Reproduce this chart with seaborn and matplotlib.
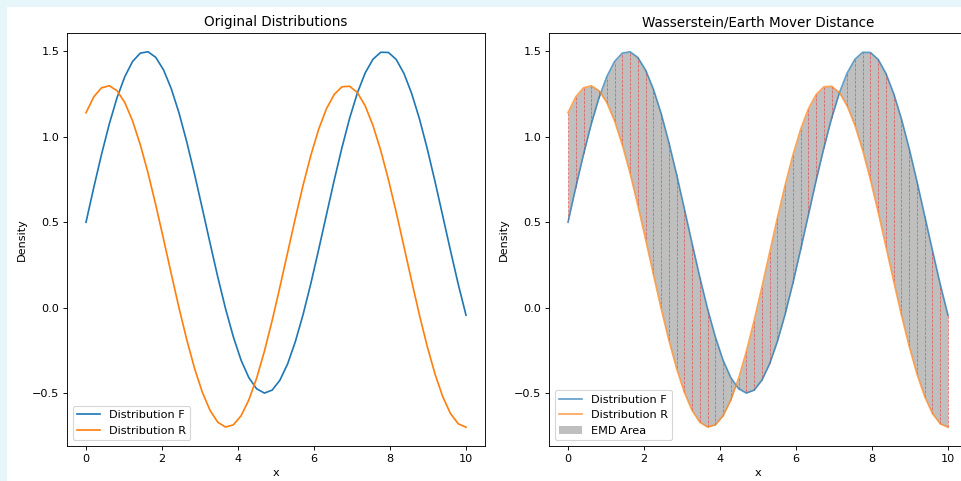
import numpy as np
import pandas as pd
import matplotlib
matplotlib.use("Agg")
import matplotlib.pyplot as plt
import seaborn as sns
from matplotlib.patches import Rectangle

# ---- data (50 sample points on [0, 10]) ----
x_values = np.linspace(0, 10, 50)

dist_f = [0.500, 0.703, 0.897, 1.075, 1.229, 1.352, 1.441, 1.490, 1.498, 1.465,
          1.392, 1.281, 1.139, 0.969, 0.781, 0.580, 0.377, 0.178, -0.007, -0.171,
          -0.308, -0.410, -0.475, -0.500, -0.483, -0.425, -0.329, -0.198, -0.039, 0.143,
          0.340, 0.543, 0.745, 0.936, 1.110, 1.258, 1.374, 1.454, 1.495, 1.494,
          1.453, 1.371, 1.253, 1.105, 0.931, 0.739, 0.537, 0.334, 0.137, -0.044]

dist_r = [1.141, 1.234, 1.287, 1.299, 1.270, 1.201, 1.094, 0.954, 0.788, 0.600,
          0.401, 0.197, -0.003, -0.189, -0.356, -0.495, -0.602, -0.671, -0.699, -0.686,
          -0.633, -0.540, -0.413, -0.256, -0.076, 0.120, 0.323, 0.525, 0.718, 0.893,
          1.044, 1.164, 1.248, 1.293, 1.296, 1.259, 1.181, 1.067, 0.921, 0.749,
          0.559, 0.357, 0.154, -0.044, -0.227, -0.388, -0.521, -0.620, -0.680, -0.700]

series_labels = ["Distribution F", "Distribution R"]
area_label = "EMD Area"
titles = ["Original Distributions", "Wasserstein/Earth Mover Distance"]

df = pd.DataFrame({"x": x_values, "F": dist_f, "R": dist_r})

W, H = 961, 481
DPI = 81
fig = plt.figure(figsize=(W / DPI, H / DPI), dpi=DPI)
fig.patch.set_facecolor("#e6f6fb")
# white canvas (the reference is a crop of a larger figure)
fig.add_artist(Rectangle((7 / W, 0), 1, (H - 7) / H, transform=fig.transFigure,
                         facecolor="white", edgecolor="none", zorder=-10))

ax_w = 418 / W
ax_b = (H - 446) / H
ax_h = 413 / H
ax1 = fig.add_axes([67 / W, ax_b, ax_w, ax_h])
ax2 = fig.add_axes([549 / W, ax_b, ax_w, ax_h])

# left panel
sns.lineplot(data=df, x="x", y="F", ax=ax1, color="C0", label=series_labels[0])
sns.lineplot(data=df, x="x", y="R", ax=ax1, color="C1", label=series_labels[1])
ax1.set_title(titles[0], fontsize=12)
ax1.set_xlabel("x")
ax1.set_ylabel("Density")
ax1.legend(loc="lower left")

# right panel
ax2.fill_between(df["x"], df["F"], df["R"], color="gray", alpha=0.5,
                 label=area_label, linewidth=0)
ax2.vlines(df["x"], df["R"], df["F"], colors="red", linestyles="--",
           linewidth=0.7, alpha=0.5)
sns.lineplot(data=df, x="x", y="F", ax=ax2, color="C0", alpha=0.7, label=series_labels[0])
sns.lineplot(data=df, x="x", y="R", ax=ax2, color="C1", alpha=0.7, label=series_labels[1])
ax2.set_title(titles[1], fontsize=12)
ax2.set_xlabel("x")
ax2.set_ylabel("Density")
h, l = ax2.get_legend_handles_labels()
order = [l.index(series_labels[0]), l.index(series_labels[1]), l.index(area_label)]
ax2.legend([h[i] for i in order], [l[i] for i in order], loc="lower left")

for ax in (ax1, ax2):
    ax.set_xticks([0, 2, 4, 6, 8, 10])
    ax.set_yticks([-0.5, 0.0, 0.5, 1.0, 1.5])

fig.savefig("out.png", dpi=DPI, facecolor=fig.get_facecolor())
